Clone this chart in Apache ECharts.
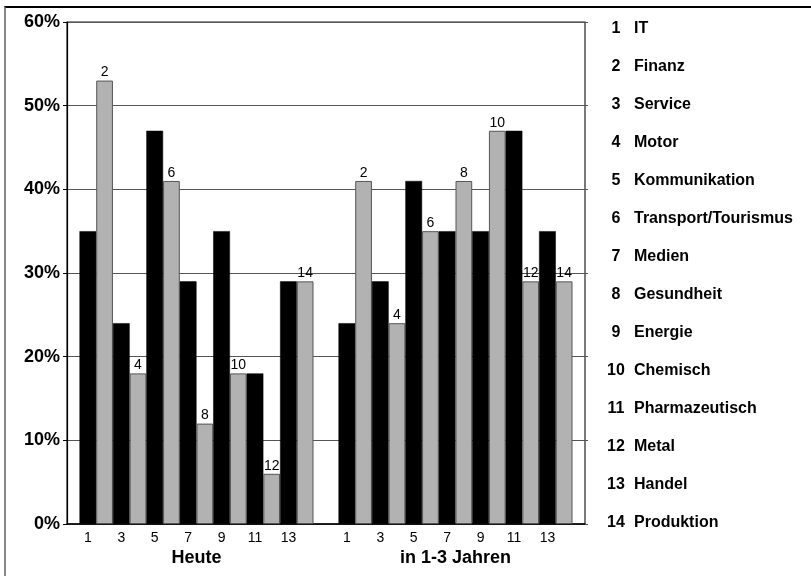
<!DOCTYPE html>
<html>
<head>
<meta charset="utf-8">
<script src="https://cdn.jsdelivr.net/npm/echarts@6/dist/echarts.min.js"></script>
<style>
  html, body { margin: 0; padding: 0; background: #fff; }
  #chart { width: 811px; height: 576px; }
  #frame { position: absolute; left: 4px; top: 6px; width: 900px; height: 700px;
           border-top: 2px solid #000; border-left: 2px solid #888; pointer-events: none; }
</style>
</head>
<body>
<div id="chart"></div>
<div id="frame"></div>
<script>
// Share of companies per industry (%), today and in 1-3 years
const groups = ['Heute', 'in 1-3 Jahren'];
const industries = ['IT', 'Finanz', 'Service', 'Motor', 'Kommunikation', 'Transport/Tourismus',
  'Medien', 'Gesundheit', 'Energie', 'Chemisch', 'Pharmazeutisch', 'Metal', 'Handel', 'Produktion'];
const heute = [35, 53, 24, 18, 47, 41, 29, 12, 35, 18, 18, 6, 29, 29];
const spaeter = [24, 41, 29, 24, 41, 35, 35, 41, 35, 47, 47, 29, 35, 29];
const yTicks = [0, 10, 20, 30, 40, 50, 60];

const FONT = 'Arial, "Liberation Sans", sans-serif';

const series = industries.map((name, i) => {
  const num = i + 1;
  const odd = num % 2 === 1;
  return {
    name: name,
    type: 'bar',
    data: [heute[i], spaeter[i]],
    barGap: '0%',
    barCategoryGap: '9.65%',
    itemStyle: odd
      ? { color: '#000000', borderColor: '#000000', borderWidth: 0.5 }
      : { color: '#b2b2b2', borderColor: '#555555', borderWidth: 1 },
    label: {
      show: true,
      position: odd ? 'bottom' : 'top',
      distance: odd ? 7 : 1,
      formatter: String(num),
      color: '#000',
      fontFamily: FONT,
      fontSize: 14
    },
    emphasis: { disabled: true },
    animation: false
  };
});

const legendRich = {
  n: { width: 24, align: 'right', fontFamily: FONT, fontWeight: 'bold', fontSize: 16, color: '#000', lineHeight: 18 },
  t: { padding: [0, 0, 0, 6], fontFamily: FONT, fontWeight: 'bold', fontSize: 16, color: '#000', lineHeight: 18 }
};

const chart = echarts.init(document.getElementById('chart'), null, { renderer: 'canvas' });
chart.setOption({
  backgroundColor: '#ffffff',
  animation: false,
  grid: { left: 67, top: 22, right: 226, bottom: 52, show: true, borderColor: '#222', borderWidth: 1.2 },
  legend: {
    orient: 'vertical',
    left: 594,
    top: 15,
    icon: 'none',
    itemWidth: 0,
    itemHeight: 18,
    itemGap: 21,
    selectedMode: false,
    data: industries,
    formatter: name => '{n|' + (industries.indexOf(name) + 1) + '}{t|' + name + '}',
    textStyle: {
      fontFamily: FONT,
      fontWeight: 'bold',
      fontSize: 16,
      color: '#000',
      rich: legendRich
    }
  },
  xAxis: {
    type: 'category',
    data: groups,
    axisLine: { lineStyle: { color: '#000', width: 1.5 } },
    axisTick: { show: false },
    axisLabel: {
      margin: 25,
      color: '#000',
      fontFamily: FONT,
      fontWeight: 'bold',
      fontSize: 18
    }
  },
  yAxis: [{
    type: 'value',
    min: yTicks[0],
    max: yTicks[yTicks.length - 1],
    interval: 10,
    axisLine: { show: true, lineStyle: { color: '#000', width: 1.2 } },
    axisTick: { show: true, length: 4, lineStyle: { color: '#000' } },
    axisLabel: {
      formatter: '{value}%',
      margin: 7,
      color: '#000',
      fontFamily: FONT,
      fontWeight: 'bold',
      fontSize: 18
    },
    splitLine: { lineStyle: { color: '#555', width: 1.2 } }
  }, {
    type: 'value',
    position: 'right',
    min: yTicks[0],
    max: yTicks[yTicks.length - 1],
    interval: 10,
    axisLine: { show: false },
    axisTick: { show: true, length: 3, lineStyle: { color: '#555' } },
    axisLabel: { show: false },
    splitLine: { show: false }
  }],
  series: series
});
</script>
</body>
</html>
